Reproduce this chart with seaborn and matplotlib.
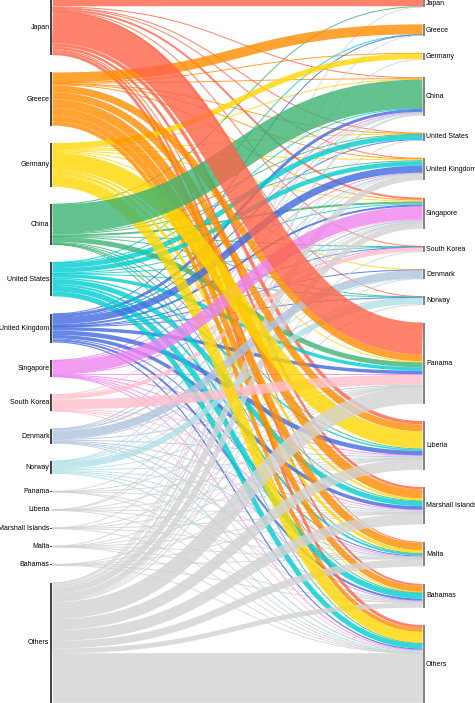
import numpy as np
import pandas as pd
import matplotlib
matplotlib.use("Agg")
import matplotlib.pyplot as plt
import seaborn as sns

# owner nationality (left) -> flag of registration (right), same country list on both sides
countries = ["Japan", "Greece", "Germany", "China", "United States", "United Kingdom",
             "Singapore", "South Korea", "Denmark", "Norway", "Panama", "Liberia",
             "Marshall Islands", "Malta", "Bahamas", "Others"]

# one row per owner, columns follow `countries` (flags)
japan = [6.5, 0, 0, 1.0, 0.5, 0.7, 2.0, 0.4, 0, 0.4, 32, 3.5, 2.5, 1.0, 2.0, 3.0]
greece = [0, 10, 0.3, 0.8, 0.3, 0.6, 1.0, 0, 0, 0, 7, 7, 9, 7.5, 6, 4]
germany = [0, 0, 5.5, 0.5, 0.5, 1.0, 1.0, 0, 0.5, 0, 1, 17, 2, 3, 1, 11]
china = [0.3, 0, 0, 29, 0.3, 1.0, 2.0, 0.3, 0, 0.3, 5, 1, 0.7, 0.3, 0.3, 0.5]
usa = [0, 0.5, 0, 0.5, 5, 4.5, 1.0, 0.3, 0, 0.2, 3.5, 1.5, 5, 2, 5.5, 5]
uk = [0, 0.2, 0, 3, 0.3, 7, 2, 0.2, 0.2, 0.4, 3.5, 4.5, 3.5, 1, 2, 1.2]
singapore = [0, 0, 0, 0.6, 0, 0.4, 13, 0.2, 0, 0, 0.7, 0.5, 0.5, 0.4, 0.4, 0.5]
south_korea = [0, 0, 0, 0.5, 0, 0, 0.5, 4, 0, 0, 10, 0.5, 0.8, 0.2, 0, 0.5]
denmark = [0, 0, 0, 0.3, 0, 0.3, 1.5, 0, 8, 0.3, 0.8, 1, 1, 0.5, 0.5, 0.8]
norway = [0, 0, 0, 0.3, 0, 0.3, 1, 0, 0.3, 6, 0.5, 0.8, 1, 0.8, 0.8, 1.2]
panama = [0, 0, 0, 0, 0, 0, 0.1, 0, 0, 0, 0.3, 0.1, 0.1, 0, 0.1, 0.2]
liberia = [0, 0, 0, 0, 0, 0.1, 0.1, 0, 0, 0, 0.1, 0.3, 0.1, 0.1, 0, 0.1]
marshall = [0, 0, 0, 0, 0, 0, 0.1, 0, 0, 0, 0.1, 0.1, 0.3, 0.1, 0, 0.2]
malta = [0, 0, 0, 0, 0, 0, 0.1, 0, 0, 0, 0.1, 0.1, 0.1, 0.3, 0.1, 0.1]
bahamas = [0, 0, 0, 0, 0, 0, 0, 0, 0, 0, 0.1, 0.1, 0.1, 0.1, 0.3, 0.2]
others = [0.2, 0.8, 1.0, 2.0, 0.8, 6.5, 6, 0.5, 0.7, 1.2, 17, 11, 11, 7.5, 5, 50]

colors = ["tomato", "darkorange", "gold", "mediumseagreen", "darkturquoise", "royalblue",
          "violet", "pink", "lightsteelblue", "powderblue", "lightgrey", "lightgrey",
          "lightgrey", "lightgrey", "lightgrey", "lightgrey"]

flows = np.array([japan, greece, germany, china, usa, uk, singapore, south_korea,
                  denmark, norway, panama, liberia, marshall, malta, bahamas, others])

sns.set_theme(style="white")
plt.rcParams['font.family'] = ['Liberation Sans', 'DejaVu Sans']

W, H = 475, 703
fig = plt.figure(figsize=(W / 100, H / 100), dpi=100)
ax = fig.add_axes([0, 0, 1, 1])

# layout in pixel units
n = len(countries)
pad = 17.4
out_tot = flows.sum(axis=1)
in_tot = flows.sum(axis=0)
k = (H - pad * (n - 1)) / max(out_tot.sum(), in_tot.sum())
left_top = np.concatenate([[0], np.cumsum(out_tot * k + pad)[:-1]])
right_top = np.concatenate([[0], np.cumsum(in_tot * k + pad)[:-1]])
x0, x1 = 52.5, 422.5
xm = (x0 + x1) / 2

src_off = np.zeros(n)
tgt_off = np.zeros(n)
ends = {}
for i in range(n):
    for j in range(n):
        if flows[i, j] > 0:
            w = flows[i, j] * k
            ends[(i, j)] = [left_top[i] + src_off[i] + w / 2]
            src_off[i] += w
for j in range(n):
    for i in range(n):
        if flows[i, j] > 0:
            w = flows[i, j] * k
            ends[(i, j)].append(right_top[j] + tgt_off[j] + w / 2)
            tgt_off[j] += w

t = np.linspace(0, 1, 60)
rows = []
for (i, j), (ys, yt) in ends.items():
    bx = (1 - t) ** 3 * x0 + 3 * (1 - t) ** 2 * t * xm + 3 * (1 - t) * t ** 2 * xm + t ** 3 * x1
    by = (1 - t) ** 3 * ys + 3 * (1 - t) ** 2 * t * ys + 3 * (1 - t) * t ** 2 * yt + t ** 3 * yt
    rows.append(pd.DataFrame({"x": bx, "y": by, "link": f"{i}-{j}",
                              "owner": countries[i],
                              "width": max(flows[i, j] * k, 1.0)}))
links = pd.concat(rows, ignore_index=True)

wmax = links["width"].max()
sns.lineplot(data=links, x="x", y="y", units="link", estimator=None, sort=False,
             hue="owner", hue_order=countries, palette=dict(zip(countries, colors)),
             size="width", sizes=(0, wmax * 72 / 100), size_norm=(0, wmax),
             alpha=0.8, legend=False, solid_capstyle="butt", ax=ax)

# wider links drawn on top
for line in ax.lines:
    line.set_zorder(1 + line.get_linewidth() / 1000)

# node bars and labels
for i, name in enumerate(countries):
    lt, lh = left_top[i], out_tot[i] * k
    rt, rh = right_top[i], in_tot[i] * k
    ax.vlines(51.4, lt, lt + max(lh, 0.8), color="#333333", lw=1.3, zorder=3)
    ax.vlines(423.6, rt, rt + max(rh, 0.8), color="#777777", lw=1.3, zorder=3)
    ax.text(49.5, lt + lh / 2, name, ha="right", va="center", fontsize=5, color="black")
    ax.text(426, rt + rh / 2, name, ha="left", va="center", fontsize=5, color="black")

ax.set_xlim(0, W)
ax.set_ylim(H, 0)
ax.set_axis_off()
fig.savefig("out.png", dpi=100)
